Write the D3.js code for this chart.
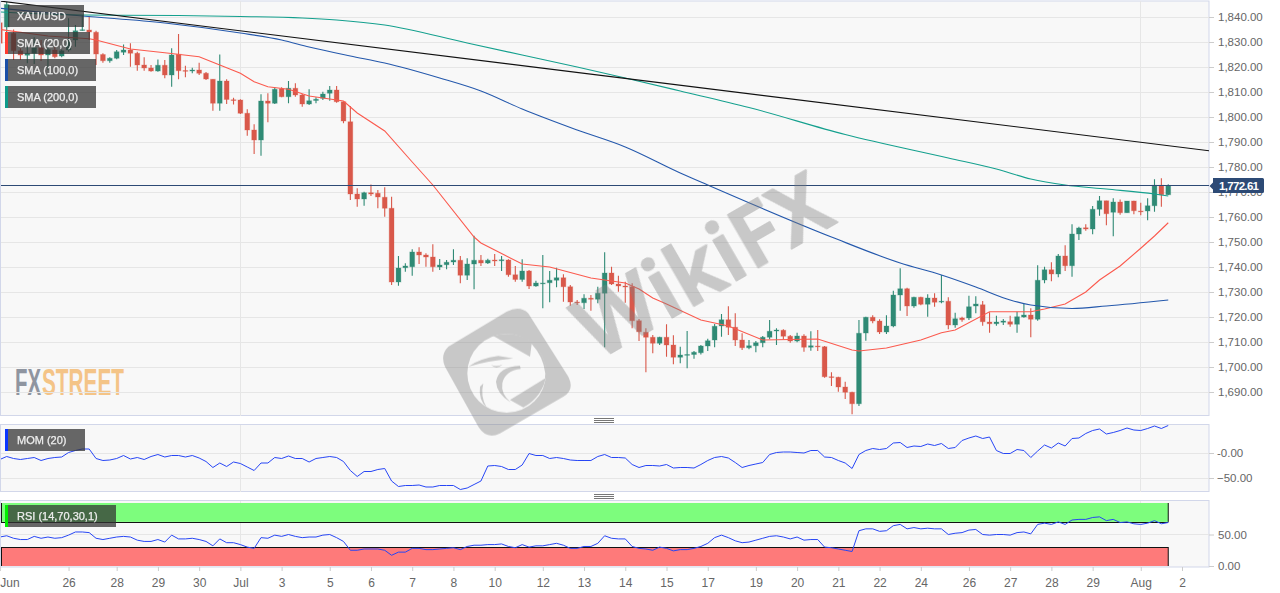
<!DOCTYPE html>
<html><head><meta charset="utf-8"><style>html,body{margin:0;padding:0;background:#fff;overflow:hidden}svg{display:block}text{font-family:"Liberation Sans",Arial,sans-serif}</style>
<script src="https://cdnjs.cloudflare.com/ajax/libs/d3/7.8.5/d3.min.js"></script></head><body><svg id="c" width="1280" height="593"></svg>
<script>
const opens=[1837.7,1836,1833.5,1826.5,1824.7,1825.5,1827.7,1824.8,1826.8,1824.4,
1826.8,1830.8,1834.8,1834.8,1833.9,1825,1822.5,1823.5,1825.9,1826.8,
1825.5,1820.8,1819.6,1818.4,1820.7,1816.8,1825.1,1818.6,1818.4,1818.8,
1817.5,1815.1,1805.5,1814.4,1806.9,1806.8,1801.5,1794.8,1790.8,1806.4,
1805.5,1811.3,1808.1,1811.5,1808.8,1805.2,1806.6,1807.5,1809.5,1810.8,
1806.1,1798.1,1769.2,1767.2,1769.7,1769.5,1767.9,1763.5,1734,1739.7,
1740.1,1746,1744.8,1744,1740,1740.9,1742,1742.7,1736.7,1741.2,
1742.7,1741.6,1742.8,1742.5,1742.8,1736.9,1735,1738.4,1732.4,1733.4,
1733.7,1734.7,1735.7,1732.1,1726,1725.7,1727.5,1727.1,1729.5,1737.6,
1733.2,1732.4,1732.1,1718.5,1713.9,1711.9,1709.5,1711.9,1708.8,1703.9,
1704.8,1705,1705.7,1708.4,1710.8,1716.4,1718.9,1715.9,1710.8,1707.7,
1708.5,1709.7,1711.9,1714.4,1714.7,1712.3,1710.4,1712.4,1707.9,1708.4,
1708.1,1696.1,1695.9,1692,1689.9,1685.3,1713.6,1719.9,1718.4,1714,
1716.4,1728.8,1731.3,1724.4,1727.9,1725.1,1727.6,1726.1,1726.3,1716.8,
1719.6,1719.6,1724.4,1724.9,1718,1717.3,1717.9,1718.1,1717.1,1720,
1720.8,1719.1,1734.8,1738.9,1737.2,1744.4,1740.5,1753.2,1755.7,1755.2,
1763.1,1766.5,1761.9,1766,1761.7,1766.4,1762.4,1762.4,1764.5,1772.7,
1768.9];
const closes=[1829.5,1845,1826.5,1824.8,1825.5,1827.7,1824.8,1827,1824.1,1826.5,
1830.1,1834.5,1834.9,1834,1825.2,1822.5,1823.5,1826.1,1826.8,1825.5,
1820.8,1819.6,1818.4,1820.7,1816.8,1824.8,1818.5,1818.3,1818.8,1817.5,
1815.2,1805.5,1814.4,1807,1806.7,1801.5,1794.8,1790.8,1806.4,1805.5,
1811.1,1808.1,1811.5,1808.8,1805.2,1806.5,1807.1,1809.2,1810.8,1806.1,
1798.4,1769.2,1767.2,1769.7,1769.2,1768,1763.5,1734,1739.6,1740.4,
1746,1744.8,1744,1740.1,1740.8,1741.9,1742.7,1736.7,1741.2,1742.7,
1741.6,1742.7,1742.4,1742.9,1736.9,1735,1738.4,1732.4,1733.6,1733.6,
1734.7,1735.7,1732.1,1726,1725.7,1727.5,1727.1,1729.5,1737.6,1733.2,
1732.4,1732,1718.5,1714.1,1711.9,1709.5,1711.9,1708.8,1703.9,1704.8,
1705,1705.9,1708.4,1710.5,1716.3,1718.9,1715.9,1710.8,1707.7,1708.5,
1709.7,1711.9,1714.3,1714.8,1712.3,1710.4,1712.4,1707.9,1708.5,1708.1,
1696.1,1695.9,1692,1689.9,1685.3,1713.5,1719.9,1718.4,1714,1716.4,
1728.8,1731.3,1724.4,1727.9,1725.1,1727.6,1725.9,1726.3,1716.8,1719.3,
1718.9,1724.1,1725.2,1718.1,1717.3,1718,1718.4,1717.1,1720.1,1720.8,
1719.1,1734.7,1738.9,1737.2,1744.4,1740.5,1753.2,1755.6,1755.2,1763.1,
1766.5,1761.3,1766,1761.7,1766.4,1762.5,1762.1,1764.5,1772.7,1768.9,
1772.61];
const highs=[1841,1846,1835,1827.5,1828,1831.9,1830.8,1828,1828,1827,
1839.5,1836.8,1840.8,1840.4,1834.5,1825.5,1823.9,1826.8,1829,1829.5,
1826.1,1823.9,1820.8,1823,1822.8,1827.5,1833.2,1820.5,1819.7,1821.7,
1818,1815.1,1825,1815.1,1807.7,1807.1,1803.1,1797.1,1809.1,1809.5,
1811.9,1811.9,1814.4,1813.5,1809.2,1811.1,1807.9,1810.1,1812.4,1812.4,
1806.2,1804.4,1771.5,1770.1,1773,1770.8,1771.9,1768.1,1744.4,1741.5,
1747.1,1747.9,1745.5,1749.1,1743.2,1742.8,1747.1,1744.4,1743.5,1752.5,
1744.8,1743.3,1745.2,1744.4,1743.1,1740.4,1743.1,1738.8,1734.5,1744.8,
1738.4,1739.7,1737.1,1732.8,1726.8,1729.1,1728.8,1732.1,1745.9,1740.1,
1736.5,1734.1,1733.5,1719.2,1715.5,1712.8,1712.1,1717.1,1712.7,1708.1,
1714.4,1706.4,1708.8,1711.3,1717.2,1721.2,1724.3,1721.5,1713.5,1710.8,
1710.4,1712.4,1718.8,1715.5,1715.1,1712.8,1713.7,1713.1,1714.3,1714.8,
1708.4,1697.9,1696.1,1694.1,1690.1,1718.8,1720.1,1720.7,1719.1,1720.7,
1730.5,1739.5,1731.7,1728.1,1728.1,1729.1,1729.5,1736.8,1727.9,1721.7,
1720.1,1728.5,1728.3,1726.4,1721.9,1720.5,1719.2,1720.5,1722.1,1725.2,
1723.5,1740.7,1740.1,1741.9,1745.2,1748.7,1757.1,1756.1,1757.1,1764.4,
1768.4,1766.5,1767.5,1767,1766.4,1766.5,1765.7,1767.5,1775.1,1775.5,
1773.1];
const lows=[1826,1834,1822.8,1822.8,1821.5,1821.2,1822.4,1818.8,1823.5,1823.9,
1826.1,1828.1,1834.5,1830.8,1820.8,1821.7,1821.7,1823.1,1824.8,1820.1,
1818.5,1818.5,1818.1,1818.1,1815.5,1812.1,1815.1,1815.9,1817.5,1816.8,
1814.8,1802.5,1802.5,1805.2,1805,1801.2,1792.5,1785.2,1784.5,1797.9,
1805.2,1807.9,1805.5,1808.1,1804.1,1804.8,1805.5,1806.8,1806.5,1805.7,
1797.5,1766.8,1764.1,1764.5,1768.4,1763.5,1760.1,1732.8,1732.5,1738.1,
1736.5,1741.2,1740.1,1738.1,1738.8,1739.1,1740.8,1733.5,1734.8,1731.1,
1740.4,1741.2,1740.4,1738.4,1736.1,1734.1,1734.1,1731.2,1732.1,1723.5,
1725.9,1731.9,1726.1,1724.5,1724.8,1723.2,1722.5,1725.5,1707.9,1732.8,
1730.1,1725.7,1715.5,1710.4,1697.9,1705.5,1708.8,1704.1,1701.1,1701.5,
1699.5,1703.3,1705,1706.4,1707.9,1712.1,1712.8,1708.4,1706.8,1707.1,
1705.9,1707.9,1711.1,1708.8,1711.1,1709.7,1709.9,1706.1,1706.5,1706.4,
1695.7,1692.4,1690.1,1687.2,1681.1,1684.4,1710.5,1717.5,1713.2,1713.2,
1715.9,1722.5,1720.4,1723.7,1724.7,1720.1,1724.1,1725.5,1715.1,1715.7,
1718.1,1718.8,1721.5,1716.5,1713.7,1716.5,1716.8,1716.1,1713.7,1719.7,
1711.9,1718.5,1733.5,1734.3,1735.9,1738.4,1736.1,1750.8,1754.5,1753.1,
1760.5,1756.7,1752.3,1760.9,1761.7,1761.1,1760.7,1758.7,1762.1,1764.1,
1768.8];
const sma20Idx=[0,7,13,14,19,24,29,32,35,37,39,42,45,50,51,52,56,60,63,69,70,76,80,86,91,93,95,97,102,106,111,119,124,125,129,134,137,139,144,150,152,155,158,160,163,166,168,170];
const sma20=[1835,1832.4,1831.3,1830.8,1827.2,1825.7,1824.1,1820.8,1817.5,1814.1,1812.1,1811.1,1808.4,1806.4,1804,1801.6,1794.4,1782,1772.8,1752,1749.6,1741.2,1740,1735.6,1733.6,1731.2,1727.6,1725.2,1718.8,1716.4,1710.8,1711.2,1706.8,1706.4,1707.6,1710.8,1713.7,1714.8,1722.1,1722.1,1723.2,1725.2,1730,1734.8,1740.4,1747.5,1752.4,1757.7];
const sma100Idx=[0,12,24,35,41,45,51,56,64,70,76,84,91,99,103,121,131,137,142,147,150,156,161,170];
const sma100=[1843.5,1840.4,1837.6,1833.6,1830.8,1828,1824.4,1821.6,1815.6,1810.4,1803.2,1794.8,1788,1777.6,1772.8,1752,1741.6,1736.8,1732,1726.8,1724.8,1723.4,1724.4,1726.8];
const sma200Idx=[0,12,26,35,44,49,56,68,76,84,91,99,109,123,138,145,150,155,161,168,170];
const sma200=[1842,1840.8,1840.6,1840.2,1839.6,1838.8,1836.8,1829.6,1824.8,1820,1815.6,1810.4,1803.8,1793,1783.6,1779.2,1775.2,1772.8,1771.2,1769.2,1768.4];
const trendIdx=[0,176];
const trendVal=[1846.4,1786.5];
const lastPrice=1772.61;
const mom=[-13,-7,-11,-13,-11,-9,-15,-11,-9,-8,1,5,8,8,-11,-15,-14,-11,-5,-12,-9,-13,-7,-3,-8,-5,-5,-8,-5,-10,-17,-29,-20,-27,-18,-21,-28,-35,-20,-20,-9,-11,-6,-11,-11,-18,-11,-9,-7,-9,-17,-35,-47,-37,-37,-33,-31,-56,-67,-65,-65,-64,-68,
-68,-65,-65,-65,-73,-70,-63,-56,-26,-25,-27,-33,-33,-24,-1,-5,-5,-11,-9,-11,-14,-15,-15,-15,-7,-3,-9,-9,-10,-23,-29,-25,-25,-26,-23,-30,-29,-29,-30,-23,-15,-9,-7,-10,-19,-29,-25,-22,-19,-3,1,2,2,1,0,5,5,-8,-9,-15,-20,-31,-3,
5,9,7,9,20,21,11,14,13,18,15,19,9,11,25,30,34,29,32,5,-1,-1,7,5,-9,4,16,10,20,14,29,30,39,45,48,38,41,45,50,46,45,49,54,49,55];
const rsi=[46,48,44,42,42,47,44,46,44,45,49,54,54,53,44,42,44,46,47,46,41,39,39,42,38,49,43,43,44,42,39,32,43,37,37,34,30,28,45,44,49,47,50,47,45,46,46,49,50,45,39,25,25,27,27,27,25,17,22,22,28,28,26,
26,27,28,29,26,31,33,33,34,34,35,31,29,34,30,32,32,34,36,33,28,28,31,31,36,48,44,43,43,31,28,27,25,30,28,24,26,26,28,31,36,45,49,45,40,37,38,41,44,47,48,46,43,46,41,42,42,30,29,27,25,23,56,
59,59,55,56,64,66,59,61,59,60,59,59,50,52,53,57,58,50,49,50,50,49,53,54,51,66,68,66,70,66,73,74,74,77,78,72,74,69,70,67,66,68,72,67,69];
const dateIdx=[0,10,17,23,29,35,41,48,54,60,66,72,79,85,91,97,103,110,116,122,128,134,141,147,153,159,166,172];
const dateLabels=["Jun","26","28","29","30","Jul","3","5","6","7","8","10","12","13","14","15","17","19","20","21","22","24","26","27","28","29","Aug","2"];
const monthIdx=[35,166];
const priceTicks=[1690,1700,1710,1720,1730,1740,1750,1760,1770,1780,1790,1800,1810,1820,1830,1840];
const momTicks=[0,-50];
const rsiTicks=[0,50];

const svg=d3.select("#c");
const L=1,R=1209,GREEN="#2f8a75",RED="#d9584a",BG="#f8f8f8",BORDER="#d2d7ea",GRID="#e6e6e6",AX="#666";
const x=d3.scaleLinear().domain([0,172]).range([-0.17,1181.99]);
const y=d3.scaleLinear().domain([1690,1840]).range([392,17]);
const yM=d3.scaleLinear().domain([-50,0]).range([478,453]);
const yR=d3.scaleLinear().domain([0,100]).range([566,503]);
const n=opens.length,idx=d3.range(n);
const panels=[[1,415.5],[424.5,491.5],[500.5,567]];
const defs=svg.append("defs");
panels.forEach((p,k)=>{
 svg.append("rect").attr("x",L-.5).attr("y",p[0]).attr("width",R-L+.5).attr("height",p[1]-p[0]).attr("fill",BG).attr("stroke",BORDER);
 defs.append("clipPath").attr("id","cp"+k).append("rect").attr("x",L).attr("y",p[0]).attr("width",R-L).attr("height",p[1]-p[0]);
});
// FXStreet mark under the grid
const fx=svg.append("g").attr("font-weight",700).attr("font-size",36);
fx.append("text").attr("x",15).attr("y",395).attr("textLength",26).attr("lengthAdjust","spacingAndGlyphs").attr("fill","#8f95a0").text("FX");
fx.append("text").attr("x",42).attr("y",395).attr("textLength",82).attr("lengthAdjust","spacingAndGlyphs").attr("fill","#f4c487").text("STREET");
// grids
const gg=svg.append("g").attr("stroke",GRID).attr("shape-rendering","crispEdges");
const hgrid=(vals,sc)=>gg.selectAll(null).data(vals).enter().append("line").attr("x1",L).attr("x2",R).attr("y1",d=>sc(d)).attr("y2",d=>sc(d));
hgrid(priceTicks,y);hgrid(momTicks,yM);hgrid([50],yR);
panels.forEach(p=>gg.selectAll(null).data(monthIdx).enter().append("line").attr("x1",d=>x(d)).attr("x2",d=>x(d)).attr("y1",p[0]).attr("y2",p[1]));
// candles
const main=svg.append("g").attr("clip-path","url(#cp0)");
const col=i=>closes[i]>=opens[i]?GREEN:RED;
main.selectAll("line.w").data(idx).enter().append("line").attr("class","w")
 .attr("x1",i=>x(i)).attr("x2",i=>x(i)).attr("y1",i=>y(highs[i])).attr("y2",i=>y(lows[i])).attr("stroke",col).attr("stroke-width",1.1);
main.selectAll("rect.b").data(idx).enter().append("rect").attr("class","b")
 .attr("x",i=>x(i)-2.4).attr("width",4.8)
 .attr("y",i=>Math.min(y(opens[i]),y(closes[i])))
 .attr("height",i=>Math.max(0.8,Math.abs(y(opens[i])-y(closes[i]))))
 .attr("fill",col).attr("stroke",col).attr("stroke-opacity",.3).attr("stroke-width",1);
const ln=(X,Y,sc,c,curve)=>d3.line().x((d,i)=>x(X?X[i]:i)).y(d=>sc(d)).curve(curve||d3.curveLinear);
main.append("path").datum(sma20).attr("d",ln(sma20Idx,null,y)).attr("fill","none").attr("stroke","#fb5a4e").attr("stroke-width",1.1);
main.append("path").datum(sma100).attr("d",ln(sma100Idx,null,y,0,d3.curveMonotoneX)).attr("fill","none").attr("stroke","#2458ac").attr("stroke-width",1.1);
main.append("path").datum(sma200).attr("d",ln(sma200Idx,null,y,0,d3.curveMonotoneX)).attr("fill","none").attr("stroke","#14a08e").attr("stroke-width",1.1);
main.append("path").datum(trendVal).attr("d",ln(trendIdx,null,y)).attr("fill","none").attr("stroke","#111").attr("stroke-width",1.1);
svg.append("line").attr("x1",L).attr("x2",R).attr("y1",Math.round(y(lastPrice))+.5).attr("y2",Math.round(y(lastPrice))+.5).attr("stroke","#2d4a75").attr("stroke-width",1);
// momentum
svg.append("g").attr("clip-path","url(#cp1)").append("path").datum(mom).attr("d",ln(null,null,yM)).attr("fill","none").attr("stroke","#2746f5").attr("stroke-width",1);
// rsi bands
const xe=x(n-1);
const rg=svg.append("g").attr("clip-path","url(#cp2)");
rg.append("rect").attr("x",L).attr("y",yR(100)).attr("width",xe-L).attr("height",yR(70)-yR(100)).attr("fill","#7dfd7d");
rg.append("rect").attr("x",L).attr("y",yR(30)).attr("width",xe-L).attr("height",yR(0)-yR(30)).attr("fill","#fe7a7a");
[70,30].forEach(v=>rg.append("line").attr("x1",L).attr("x2",xe).attr("y1",Math.round(yR(v))+.5).attr("y2",Math.round(yR(v))+.5).attr("stroke","#111"));
[[100,70],[30,0]].forEach(b=>[L+.5,xe].forEach(px=>rg.append("line").attr("x1",px).attr("x2",px).attr("y1",yR(b[0])).attr("y2",yR(b[1])).attr("stroke","#111")));
rg.append("path").datum(rsi).attr("d",ln(null,null,yR)).attr("fill","none").attr("stroke","#2746f5").attr("stroke-width",1);
// right axes
const styleAxis=g=>{g.select(".domain").remove();g.selectAll("line").attr("stroke","#ccc");g.selectAll("text").attr("fill",AX).attr("font-size",11.5);};
const fmt=d3.format(",.2f");
const gr=svg.append("g").attr("transform",`translate(${R},0)`);
gr.append("g").call(d3.axisRight(y).tickValues(priceTicks).tickSize(5).tickPadding(4).tickFormat(fmt)).call(styleAxis);
gr.append("g").call(d3.axisRight(yM).tickValues(momTicks).tickSize(5).tickPadding(3).tickFormat(v=>v===0?"-0.00":fmt(v))).call(styleAxis);
gr.append("g").call(d3.axisRight(yR).tickValues(rsiTicks).tickSize(5).tickPadding(4).tickFormat(fmt)).call(styleAxis);
// bottom axis
const gx=svg.append("g").attr("transform","translate(0,567)").call(d3.axisBottom(x).tickValues(dateIdx).tickSize(4).tickPadding(7).tickFormat((d,i)=>dateLabels[i]));
gx.select(".domain").remove();gx.selectAll("line").attr("stroke","#ccc");gx.selectAll("text").attr("fill",AX).attr("font-size",12);
gx.selectAll("text").filter((d,i)=>i===0).attr("text-anchor","start").attr("x",0);
// price tag
svg.append("path").attr("d","M1213 178H1262.5a1.5 1.5 0 0 1 1.5 1.5V191.5a1.5 1.5 0 0 1 -1.5 1.5H1213V189.5L1209.5 186L1213 182.5Z").attr("fill","#2d4a75");
svg.append("text").attr("x",1219).attr("y",186).attr("dy",".36em").attr("fill","#fff").attr("font-size",11.5).attr("font-weight",700).attr("textLength",40).text(d3.format(",.2f")(lastPrice));
// watermark
const wm=svg.append("g").attr("opacity",.4).attr("fill","#808080");
wm.append("text").attr("transform","translate(597,361) rotate(-30)").attr("font-size",84).attr("font-weight",600).attr("stroke","#808080").attr("stroke-width",2).attr("stroke-linejoin","round").style("font-family","'Noto Sans'").attr("textLength",278).attr("lengthAdjust","spacing").text("WikiFX");
const lg=wm.append("g").attr("transform","translate(430,170) scale(.3333)");
lg.append("path").attr("fill-rule","evenodd").attr("d","M55 530L230 425Q270 405 295 430L415 620Q435 660 400 680L210 790Q170 810 145 770L45 590Q30 555 55 530Z M112 610A118 118 0 1 0 348 610A118 118 0 1 0 112 610Z");
lg.append("path").attr("d","M190 498L300 560L305 522Q340 560 346 610L345 625L240 690L280 712Q340 680 350 610Q345 540 290 505Q240 482 190 498Z");
lg.append("path").attr("d","M115 590Q150 565 205 558L250 565Q170 572 115 590Z");
lg.append("path").attr("d","M183 585Q200 600 218 583Q200 592 183 585Z");
lg.append("path").attr("d","M272 597Q225 602 217 640Q212 670 242 697Q200 672 198 635Q205 590 270 587Z");
lg.append("path").attr("d","M160 640Q150 680 170 712Q145 690 150 650Z");
// legend
const legs=[["XAU/USD",5,84,null],["SMA (20,0)",32,90,"#ff3b30"],["SMA (100,0)",59,96,"#1a4fa8"],["SMA (200,0)",86,96,"#0d9a8a"],["MOM (20)",429,85,"#0a36ff"],["RSI (14,70,30,1)",505,116,"#00ee00"]];
legs.forEach(([t,ty,xr,c])=>{
 svg.append("rect").attr("x",8).attr("y",ty).attr("width",xr-8).attr("height",22).attr("fill","#333").attr("fill-opacity",.74);
 if(c)svg.append("rect").attr("x",5).attr("y",ty).attr("width",3).attr("height",22).attr("fill",c);
 svg.append("text").attr("x",17).attr("y",ty+11).attr("dy",".36em").attr("fill","#eee").attr("stroke","#eee").attr("stroke-width",.25).attr("font-size",11).text(t);
});
// handles
[418.5,420.5,422.5,494.5,496.5,498.5].forEach(h=>svg.append("line").attr("x1",594).attr("x2",614).attr("y1",h).attr("y2",h).attr("stroke","#777").attr("stroke-width",1));
</script></body></html>
